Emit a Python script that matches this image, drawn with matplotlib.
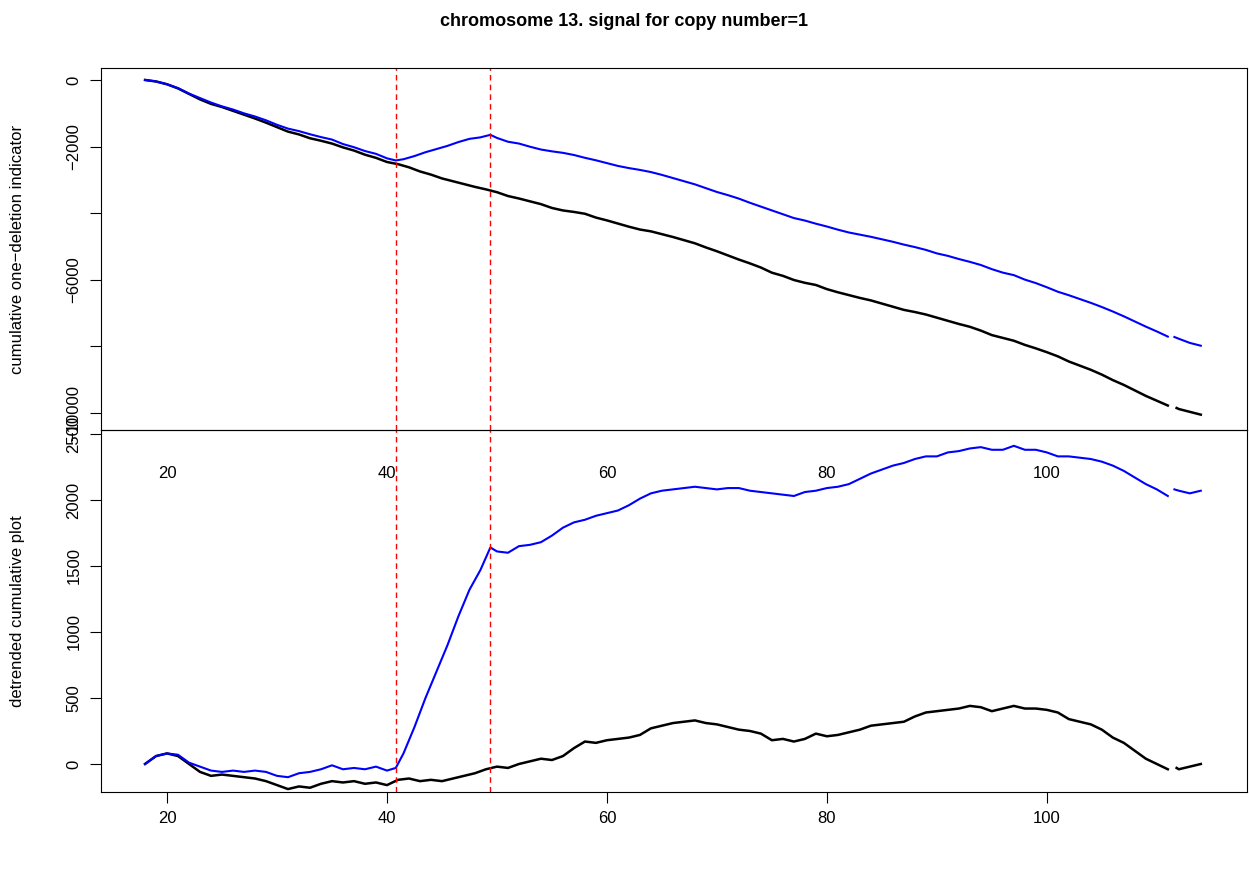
import numpy as np
import matplotlib.pyplot as plt

plt.rcParams["font.family"] = ["Liberation Sans", "DejaVu Sans"]

# detrended cumulative signal, read at key positions (Mb); None = gap
black_x = [18, 19, 20, 21, 22, 23, 24, 25, 26, 27, 28, 29, 30, 31, 32, 33, 34, 35, 36, 37, 38, 39, 40, 41,
           42, 43, 44, 45, 46, 47, 48, 49, 50, 51, 52, 53, 54, 55, 56, 57, 58, 59, 60, 61, 62, 63, 64, 65,
           66, 67, 68, 69, 70, 71, 72, 73, 74, 75, 76, 77, 78, 79, 80, 81, 82, 83, 84, 85, 86, 87, 88, 89,
           90, 91, 92, 93, 94, 95, 96, 97, 98, 99, 100, 101, 102, 103, 104, 105, 106, 107, 108, 109, 110,
           111, 111.4, 111.8, 112, 113, 114]
black_y = [0, 60, 80, 60, 0, -60, -90, -80, -90, -100, -110, -130, -160, -190, -170, -180, -150, -130, -140,
           -130, -150, -140, -160, -120, -110, -130, -120, -130, -110, -90, -70, -40, -20, -30, 0, 20, 40, 30,
           60, 120, 170, 160, 180, 190, 200, 220, 270, 290, 310, 320, 330, 310, 300, 280, 260, 250, 230, 180,
           190, 170, 190, 230, 210, 220, 240, 260, 290, 300, 310, 320, 360, 390, 400, 410, 420, 440, 430, 400,
           420, 440, 420, 420, 410, 390, 340, 320, 300, 260, 200, 160, 100, 40, 0, -40, None, -30, -40, -20, 0]
blue_x = [18, 19, 20, 21, 22, 23, 24, 25, 26, 27, 28, 29, 30, 31, 32, 33, 34, 35, 36, 37, 38, 39, 40, 40.8,
          41.5, 42.5, 43.5, 44.5, 45.5, 46.5, 47.5, 48.5, 49.4, 50, 51, 52, 53, 54, 55, 56, 57, 58, 59, 60,
          61, 62, 63, 64, 65, 66, 67, 68, 69, 70, 71, 72, 73, 74, 75, 76, 77, 78, 79, 80, 81, 82, 83, 84, 85,
          86, 87, 88, 89, 90, 91, 92, 93, 94, 95, 96, 97, 98, 99, 100, 101, 102, 103, 104, 105, 106, 107,
          108, 109, 110, 111, 111.3, 111.6, 112, 113, 114]
blue_y = [0, 60, 80, 70, 10, -20, -50, -60, -50, -60, -50, -60, -90, -100, -70, -60, -40, -10, -40, -30, -40,
          -20, -50, -30, 80, 280, 500, 700, 900, 1120, 1320, 1470, 1640, 1610, 1600, 1650, 1660, 1680, 1730,
          1790, 1830, 1850, 1880, 1900, 1920, 1960, 2010, 2050, 2070, 2080, 2090, 2100, 2090, 2080, 2090,
          2090, 2070, 2060, 2050, 2040, 2030, 2060, 2070, 2090, 2100, 2120, 2160, 2200, 2230, 2260, 2280,
          2310, 2330, 2330, 2360, 2370, 2390, 2400, 2380, 2380, 2410, 2380, 2380, 2360, 2330, 2330, 2320,
          2310, 2290, 2260, 2220, 2170, 2120, 2080, 2030, None, 2080, 2070, 2050, 2070]
trend_start, trend_end = 18, 114
trend_total = -10050  # cumulative value of black curve at the end
breakpoints = [40.8, 49.4]


def arr(v):
    return np.array([np.nan if a is None else a for a in v], dtype=float)


bx, by = arr(black_x), arr(black_y)
ux, uy = arr(blue_x), arr(blue_y)
trend = lambda x: trend_total * (x - trend_start) / (trend_end - trend_start)

fig = plt.figure(figsize=(12.49, 8.84), dpi=100)
ax2 = fig.add_axes([0.0809, 0.1041, 0.9175, 0.4095])
ax1 = fig.add_axes([0.0809, 0.5136, 0.9175, 0.4095])
ax1.patch.set_alpha(0)

ax1.plot(bx, by + trend(bx), color="black", lw=1.8)
ax1.plot(ux, uy + trend(ux), color="blue", lw=1.5)
ax2.plot(bx, by, color="black", lw=1.8)
ax2.plot(ux, uy, color="blue", lw=1.5)

for ax in (ax1, ax2):
    for b in breakpoints:
        ax.axvline(b, color="red", ls=(0, (4, 3)), lw=1)
    ax.set_xlim(14.0, 118.2)
    ax.set_xticks([20, 40, 60, 80, 100])
    ax.tick_params(labelsize=12, length=8, pad=6)

ax1.set_ylim(-10510, 360)
ax1.set_yticks([0, -2000, -4000, -6000, -8000, -10000])
ax1.set_yticklabels(["0", "\u22122000", "", "\u22126000", "", "\u221210000"], rotation=90, va="center")
ax1.tick_params(axis="x", length=0, pad=26)
ax1.set_ylabel("cumulative one\u2212deletion indicator", fontsize=12, labelpad=30)

ax2.set_ylim(-212, 2530)
ax2.set_yticks([0, 500, 1000, 1500, 2000, 2500])
ax2.set_yticklabels(["0", "500", "1000", "1500", "2000", "2500"], rotation=90, va="center")
ax2.set_ylabel("detrended cumulative plot", fontsize=12, labelpad=30)
ax2.set_xlabel("position (Mb)", fontsize=12, labelpad=50)

fig.suptitle("chromosome 13. signal for copy number=1", fontsize=13, fontweight="bold", y=0.985)
fig.savefig("out.png", dpi=100)
